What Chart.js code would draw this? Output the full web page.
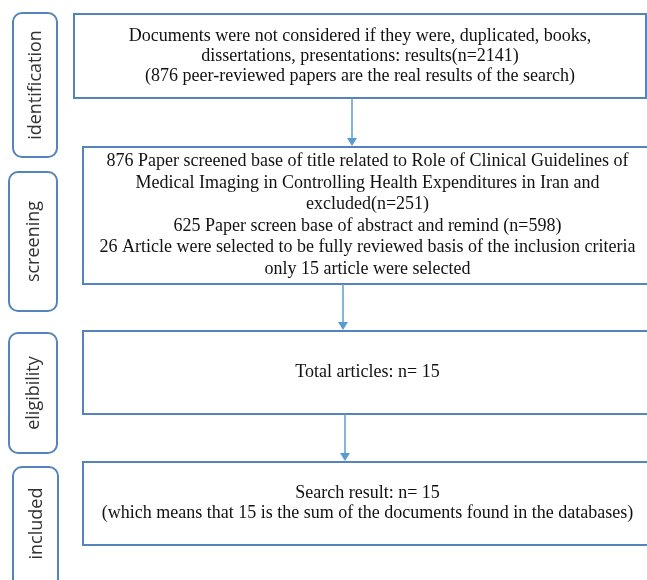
<!DOCTYPE html>
<html>
<head>
<meta charset="utf-8">
<script src="https://cdn.jsdelivr.net/npm/chart.js@4.4.1/dist/chart.umd.min.js"></script>
<style>
  html, body { margin: 0; padding: 0; background: #fff; }
  canvas { display: block; }
</style>
</head>
<body>
<canvas id="flowChart" width="647" height="580"></canvas>
<script>
// Etapas del diagrama de flujo
const stages = ['identification', 'screening', 'eligibility', 'included'];

// Texto de cada caja
const stageTexts = [
    ['Documents were not considered if they were, duplicated, books,',
     'dissertations, presentations: results(n=2141)',
     '(876 peer-reviewed papers are the real results of the search)'],
    ['876 Paper screened base of title related to Role of Clinical Guidelines of',
     'Medical Imaging in Controlling Health Expenditures in Iran and',
     'excluded(n=251)',
     '625 Paper screen base of abstract and remind (n=598)',
     '26 Article were selected to be fully reviewed basis of the inclusion criteria',
     'only 15 article were selected'],
    ['Total articles: n= 15'],
    ['Search result: n= 15',
     '(which means that 15 is the sum of the documents found in the databases)']
];

// Layout (unidades del eje = pixeles de la figura original)
const labelBoxes = [[13, 57, 13, 157], [9, 57, 172, 311], [9, 57, 333, 453], [13, 58, 467, 590]];
const mainBoxes = [[74, 646, 14, 98], [83, 652, 147, 284], [83, 652, 331, 414], [83, 652, 462, 545]];
const arrows = [[352, 98, 146], [343, 284, 330], [345, 414, 461]];
const lineGap = [20, 21.5, 20, 20];

const boxColor = '#5583bd';
const arrowColor = '#5b9bd5';

function roundRect(ctx, x, y, w, h, r) {
    ctx.beginPath();
    ctx.moveTo(x + r, y);
    ctx.lineTo(x + w - r, y);
    ctx.arcTo(x + w, y, x + w, y + r, r);
    ctx.lineTo(x + w, y + h - r);
    ctx.arcTo(x + w, y + h, x + w - r, y + h, r);
    ctx.lineTo(x + r, y + h);
    ctx.arcTo(x, y + h, x, y + h - r, r);
    ctx.lineTo(x, y + r);
    ctx.arcTo(x, y, x + r, y, r);
    ctx.closePath();
}

const flowPlugin = {
    id: 'flowPlugin',
    afterDraw(chart) {
        const ctx = chart.ctx;
        const sx = chart.scales.x, sy = chart.scales.y;
        const px = v => sx.getPixelForValue(v);
        const py = v => sy.getPixelForValue(v);
        ctx.save();

        // cajas de etapa (texto rotado)
        stages.forEach((s, i) => {
            const [x0, x1, y0, y1] = labelBoxes[i];
            ctx.strokeStyle = boxColor;
            ctx.lineWidth = 2;
            roundRect(ctx, px(x0), py(y0), px(x1) - px(x0), py(y1) - py(y0), 9);
            ctx.stroke();
            ctx.save();
            ctx.translate((px(x0) + px(x1)) / 2 + 1, (py(y0) + py(Math.min(y1, 580))) / 2);
            ctx.rotate(-Math.PI / 2);
            ctx.fillStyle = '#333333';
            ctx.font = '18px "Open Sans"';
            ctx.textAlign = 'center';
            ctx.textBaseline = 'middle';
            ctx.fillText(s, 0, 0);
            ctx.restore();
        });

        // cajas principales
        mainBoxes.forEach((b, i) => {
            const [x0, x1, y0, y1] = b;
            ctx.strokeStyle = boxColor;
            ctx.lineWidth = 2;
            ctx.strokeRect(px(x0), py(y0), px(x1) - px(x0), py(y1) - py(y0));
            const lines = stageTexts[i];
            const cx = (px(x0) + px(x1)) / 2;
            const cy = (py(y0) + py(y1)) / 2;
            ctx.fillStyle = '#111111';
            ctx.font = '18px "Liberation Serif"';
            ctx.textAlign = 'center';
            ctx.textBaseline = 'middle';
            lines.forEach((t, k) => {
                ctx.fillText(t, cx, cy + (k - (lines.length - 1) / 2) * lineGap[i]);
            });
        });

        // flechas
        arrows.forEach(a => {
            const [x, ya, yb] = a;
            ctx.strokeStyle = arrowColor;
            ctx.fillStyle = arrowColor;
            ctx.lineWidth = 1.5;
            ctx.beginPath();
            ctx.moveTo(px(x), py(ya));
            ctx.lineTo(px(x), py(yb) - 7);
            ctx.stroke();
            ctx.beginPath();
            ctx.moveTo(px(x) - 5, py(yb) - 8);
            ctx.lineTo(px(x) + 5, py(yb) - 8);
            ctx.lineTo(px(x), py(yb));
            ctx.closePath();
            ctx.fill();
        });
        ctx.restore();
    }
};

const ctx1 = document.getElementById('flowChart').getContext('2d');
const flowChart = new Chart(ctx1, {
    type: 'scatter',
    data: { datasets: [{ data: [] }] },
    options: {
        responsive: false,
        animation: false,
        layout: { padding: 0 },
        plugins: { legend: { display: false }, tooltip: { enabled: false } },
        scales: {
            x: { type: 'linear', min: 0, max: 647, display: false },
            y: { type: 'linear', min: 0, max: 580, reverse: true, display: false }
        }
    },
    plugins: [flowPlugin]
});
</script>
</body>
</html>
